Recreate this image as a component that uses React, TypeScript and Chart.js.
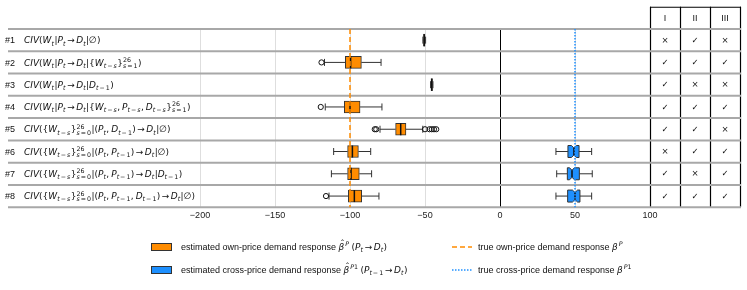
import React, { useEffect, useRef } from 'react';
import { Chart, registerables } from 'chart.js';
Chart.register(...registerables);

// ---------------- data ----------------
const rowIds = ['#1', '#2', '#3', '#4', '#5', '#6', '#7', '#8'];
const rowFormulas = [
  'CIV(W_t|P_t→D_t|∅)',
  'CIV(W_t|P_t→D_t|\\{W_{t−s}\\}_{s=1}^{26})',
  'CIV(W_t|P_t→D_t|D_{t−1})',
  'CIV(W_t|P_t→D_t|\\{W_{t−s}, P_{t−s}, D_{t−s}\\}_{s=1}^{26})',
  'CIV(\\{W_{t−s}\\}_{s=0}^{26}|(P_t, D_{t−1})→D_t|∅)',
  'CIV(\\{W_{t−s}\\}_{s=0}^{26}|(P_t, P_{t−1})→D_t|∅)',
  'CIV(\\{W_{t−s}\\}_{s=0}^{26}|(P_t, P_{t−1})→D_t|D_{t−1})',
  'CIV(\\{W_{t−s}\\}_{s=0}^{26}|(P_t, P_{t−1}, D_{t−1})→D_t|∅)',
];

// own-price (orange) boxplot statistics
const ownLo = [-51.4, -117, -46.3, -116.5, -80, -110.9, -112.4, -114];
const ownQ1 = [-51.0, -103.1, -46.0, -103.8, -69.6, -101.6, -101.6, -101.1];
const ownMed = [-50.5, -99.6, -45.5, -100, -66.2, -98.4, -99.3, -97.1];
const ownQ3 = [-50.0, -92.4, -45.0, -93.3, -62.7, -94.4, -93.8, -92.2];
const ownHi = [-49.6, -79.3, -44.7, -78.7, -51.5, -86.2, -85.6, -80.7];
const ownOutliers = [[], [-119], [], [-119.5], [-83.5, -82.5, -50, -47, -45.5, -44, -42.5], [], [], [-116]];

// cross-price (blue) boxplot statistics
const crossLo = [null, null, null, null, null, 37.3, 37.8, 37.3];
const crossQ1 = [null, null, null, null, null, 45.3, 44.9, 45.1];
const crossMed = [null, null, null, null, null, 49.3, 48, 50];
const crossQ3 = [null, null, null, null, null, 52.7, 52.9, 53.3];
const crossHi = [null, null, null, null, null, 61.1, 61.5, 61.1];
const crossNotchLo = [null, null, null, null, null, 47.6, 46.4, 48.3];
const crossNotchHi = [null, null, null, null, null, 51.0, 49.6, 51.7];

const trueOwn = -100;
const trueCross = 50;

const xTicks = [-200, -150, -100, -50, 0, 50, 100];
const xMin = -200;
const xMax = 160;

const tableHeaders = ['I', 'II', 'III'];
const colI = ['×', '✓', '✓', '✓', '✓', '×', '✓', '✓'];
const colII = ['✓', '✓', '×', '✓', '✓', '✓', '×', '✓'];
const colIII = ['×', '✓', '×', '✓', '×', '✓', '✓', '✓'];
const tableCols = [colI, colII, colIII];

const legendOwnText = 'estimated own-price demand response ';
const legendOwnMath = '~β^P (P_t→D_t)';
const legendCrossText = 'estimated cross-price demand response ';
const legendCrossMath = '~β^{P1} (P_{t−1}→D_t)';
const legendTrueOwnText = 'true own-price demand response ';
const legendTrueOwnMath = 'β^P';
const legendTrueCrossText = 'true cross-price demand response ';
const legendTrueCrossMath = 'β^{P1}';

// ---------------- styles ----------------
const ORANGE = '#FF8C00';
const BLUE = '#1E90FF';
const EDGE = '#333333';
const SANS = '"Liberation Sans", Arial, sans-serif';
const MATHF = '"DejaVu Sans"';
const FS = 9;

// ---------------- mini math renderer ----------------
type Item = { ch?: string; sub?: string; sup?: string; hat?: string };

function parseMath(s: string): Item[] {
  const items: Item[] = [];
  let i = 0;
  const readGroup = (): string => {
    if (s[i] === '{') {
      let depth = 1;
      let j = i + 1;
      while (depth > 0 && j < s.length) {
        if (s[j] === '{') depth++;
        else if (s[j] === '}') depth--;
        j++;
      }
      const g = s.slice(i + 1, j - 1);
      i = j;
      return g;
    }
    return s[i++];
  };
  while (i < s.length) {
    const c = s[i];
    if (c === '_' || c === '^') {
      const it: Item = {};
      while (s[i] === '_' || s[i] === '^') {
        const k = s[i];
        i++;
        const g = readGroup();
        if (k === '_') it.sub = g;
        else it.sup = g;
      }
      items.push(it);
    } else if (c === '~') {
      i++;
      items.push({ hat: s[i++] });
    } else if (c === '\\') {
      i++;
      items.push({ ch: s[i++] });
    } else {
      items.push({ ch: c });
      i++;
    }
  }
  return items;
}

const isItalic = (c: string) => /[A-Za-z\u03B1-\u03C9]/.test(c);
const mfont = (size: number, it: boolean) => `${it ? 'italic ' : ''}${size}px ${MATHF}`;

function drawRun(ctx: CanvasRenderingContext2D, str: string, x: number, y: number, size: number): number {
  let w = 0;
  for (const c of str) {
    if (c === ' ') {
      w += size * 0.22;
      continue;
    }
    const op = c === '→' || c === '=' || c === '−';
    if (op) w += size * 0.16;
    ctx.font = mfont(size, isItalic(c));
    ctx.fillText(c, x + w, y);
    w += ctx.measureText(c).width;
    if (op) w += size * 0.16;
  }
  return w;
}

function drawMath(ctx: CanvasRenderingContext2D, s: string, x: number, y: number, size: number): number {
  const items = parseMath(s);
  let w = 0;
  let prevItalic = false;
  for (const it of items) {
    if (it.ch !== undefined) {
      w += drawRun(ctx, it.ch, x + w, y, size);
      prevItalic = isItalic(it.ch);
    } else if (it.hat !== undefined) {
      ctx.font = mfont(size, isItalic(it.hat));
      const cw = ctx.measureText(it.hat).width;
      ctx.fillText(it.hat, x + w, y);
      ctx.font = mfont(size, false);
      const hw = ctx.measureText('ˆ').width;
      ctx.fillText('ˆ', x + w + cw / 2 - hw / 2 + size * 0.12, y - size * 0.32);
      w += cw;
      prevItalic = true;
    } else {
      const ss = size * 0.7;
      let sw = 0;
      let pw = 0;
      if (it.sub !== undefined) sw = drawRun(ctx, it.sub, x + w, y + size * 0.24, ss);
      if (it.sup !== undefined) pw = drawRun(ctx, it.sup, x + w + (prevItalic ? size * 0.1 : 0), y - size * 0.42, ss);
      w += Math.max(sw, pw + (prevItalic ? size * 0.1 : 0)) + size * 0.05;
      prevItalic = false;
    }
  }
  return w;
}

// ---------------- plugin ----------------
const boxPlugin = {
  id: 'boxExtras',
  afterDatasetsDraw(chart: any) {
    const ctx: CanvasRenderingContext2D = chart.ctx;
    const xs = chart.scales.x;
    const ys = chart.scales.y;
    const area = chart.chartArea;
    const step = ys.getPixelForValue(1) - ys.getPixelForValue(0);
    const X = (v: number) => xs.getPixelForValue(v);
    const half = 6;
    const cap = 3.5;
    ctx.save();

    // table verticals (x >= 100)
    const headTop = area.top - step;
    ctx.strokeStyle = '#000';
    ctx.lineWidth = 1.2;
    const colStep = (xMax - 100) / 3;
    for (let k = 0; k <= 3; k++) {
      const px = Math.round(X(100 + k * colStep)) + 0.5;
      ctx.beginPath();
      ctx.moveTo(px, headTop);
      ctx.lineTo(px, area.bottom);
      ctx.stroke();
    }
    ctx.beginPath();
    ctx.moveTo(X(100), headTop + 0.5);
    ctx.lineTo(X(xMax) + 1, headTop + 0.5);
    ctx.stroke();

    // row separator lines
    ctx.strokeStyle = '#a8a8a8';
    ctx.lineWidth = 2;
    for (let k = 0; k <= rowIds.length; k++) {
      const py = area.top + k * step;
      ctx.beginPath();
      ctx.moveTo(8, py);
      ctx.lineTo(X(xMax) + 1, py);
      ctx.stroke();
    }

    const drawWhiskers = (y: number, lo: number, q1: number, q3: number, hi: number, c: number) => {
      ctx.strokeStyle = EDGE;
      ctx.lineWidth = 1;
      ctx.setLineDash([]);
      ctx.beginPath();
      ctx.moveTo(X(lo), y);
      ctx.lineTo(X(q1), y);
      ctx.moveTo(X(q3), y);
      ctx.lineTo(X(hi), y);
      ctx.moveTo(X(lo), y - c);
      ctx.lineTo(X(lo), y + c);
      ctx.moveTo(X(hi), y - c);
      ctx.lineTo(X(hi), y + c);
      ctx.stroke();
    };
    // own-price whiskers, medians, outliers
    for (let i = 0; i < rowIds.length; i++) {
      const y = ys.getPixelForValue(i);
      drawWhiskers(y, ownLo[i], ownQ1[i], ownQ3[i], ownHi[i], cap);
      ctx.strokeStyle = '#111';
      ctx.lineWidth = 1.5;
      ctx.beginPath();
      ctx.moveTo(X(ownMed[i]), y - half);
      ctx.lineTo(X(ownMed[i]), y + half);
      ctx.stroke();
      ctx.lineWidth = 1;
      ctx.strokeStyle = '#111';
      for (const o of ownOutliers[i]) {
        ctx.beginPath();
        ctx.arc(X(o), y, 2.6, 0, Math.PI * 2);
        ctx.stroke();
      }
    }

    // cross-price notched boxes
    for (let i = 0; i < rowIds.length; i++) {
      const q1 = crossQ1[i];
      if (q1 === null) continue;
      const y = ys.getPixelForValue(i);
      drawWhiskers(y, crossLo[i] as number, q1, crossQ3[i] as number, crossHi[i] as number, cap);
      const a = X(q1), b = X(crossQ3[i] as number), m = X(crossMed[i] as number);
      const nl = X(crossNotchLo[i] as number), nh = X(crossNotchHi[i] as number);
      const top = y - half, bot = y + half, inset = 2.5;
      ctx.beginPath();
      ctx.moveTo(a, top);
      ctx.lineTo(nl, top);
      ctx.lineTo(m, top + inset);
      ctx.lineTo(nh, top);
      ctx.lineTo(b, top);
      ctx.lineTo(b, bot);
      ctx.lineTo(nh, bot);
      ctx.lineTo(m, bot - inset);
      ctx.lineTo(nl, bot);
      ctx.lineTo(a, bot);
      ctx.closePath();
      ctx.fillStyle = BLUE;
      ctx.fill();
      ctx.strokeStyle = EDGE;
      ctx.lineWidth = 1;
      ctx.stroke();
      ctx.strokeStyle = '#111';
      ctx.lineWidth = 1.5;
      ctx.beginPath();
      ctx.moveTo(m, top + inset);
      ctx.lineTo(m, bot - inset);
      ctx.stroke();
    }

    // true value reference lines
    ctx.lineWidth = 1.5;
    ctx.strokeStyle = ORANGE;
    ctx.setLineDash([5, 3]);
    ctx.beginPath();
    ctx.moveTo(X(trueOwn), area.top);
    ctx.lineTo(X(trueOwn), area.bottom);
    ctx.stroke();
    ctx.strokeStyle = BLUE;
    ctx.setLineDash([1.5, 1.5]);
    ctx.beginPath();
    ctx.moveTo(X(trueCross), area.top);
    ctx.lineTo(X(trueCross), area.bottom);
    ctx.stroke();
    ctx.setLineDash([]);

    // left row labels
    ctx.fillStyle = '#111';
    ctx.textAlign = 'left';
    ctx.textBaseline = 'alphabetic';
    for (let i = 0; i < rowIds.length; i++) {
      const y = ys.getPixelForValue(i) + FS * 0.36;
      ctx.font = `${FS}px ${SANS}`;
      ctx.fillText(rowIds[i], 5, y);
      drawMath(ctx, rowFormulas[i], 24, y, FS);
    }

    // table text
    ctx.textAlign = 'center';
    ctx.textBaseline = 'middle';
    for (let k = 0; k < 3; k++) {
      const cx = X(100 + (k + 0.5) * colStep);
      ctx.font = `${FS}px ${SANS}`;
      ctx.fillText(tableHeaders[k], cx, headTop + step / 2 + 0.5);
      for (let i = 0; i < rowIds.length; i++) {
        ctx.font = `8.5px ${MATHF}`;
        ctx.fillText(tableCols[k][i], cx, ys.getPixelForValue(i) + 0.5);
      }
    }

    // legend
    ctx.textAlign = 'left';
    ctx.textBaseline = 'alphabetic';
    const ly1 = 247;
    const ly2 = 270;
    const sw = (y: number, col: string) => {
      ctx.fillStyle = col;
      ctx.fillRect(151, y - 3.5, 21, 7);
      ctx.strokeStyle = EDGE;
      ctx.lineWidth = 1;
      ctx.strokeRect(151.5, y - 3.5, 20, 7);
    };
    const txt = (x: number, y: number, t: string, m: string) => {
      ctx.fillStyle = '#111';
      ctx.font = `${FS}px ${SANS}`;
      ctx.fillText(t, x, y + FS * 0.36);
      const w = ctx.measureText(t).width;
      drawMath(ctx, m, x + w, y + FS * 0.36, FS);
    };
    sw(ly1, ORANGE);
    txt(181, ly1, legendOwnText, legendOwnMath);
    sw(ly2, BLUE);
    txt(181, ly2, legendCrossText, legendCrossMath);
    ctx.lineWidth = 1.5;
    ctx.strokeStyle = ORANGE;
    ctx.setLineDash([5, 3]);
    ctx.beginPath();
    ctx.moveTo(452, ly1);
    ctx.lineTo(472, ly1);
    ctx.stroke();
    ctx.strokeStyle = BLUE;
    ctx.setLineDash([1.5, 1.5]);
    ctx.beginPath();
    ctx.moveTo(452, ly2);
    ctx.lineTo(472, ly2);
    ctx.stroke();
    ctx.setLineDash([]);
    txt(478, ly1, legendTrueOwnText, legendTrueOwnMath);
    txt(478, ly2, legendTrueCrossText, legendTrueCrossMath);

    ctx.restore();
  },
};

export default function App() {
  const ref = useRef<HTMLCanvasElement>(null);
  useEffect(() => {
    document.body.style.margin = '0';
    const chart = new Chart(ref.current as HTMLCanvasElement, {
      type: 'bar',
      data: {
        labels: rowIds,
        datasets: [
          {
            label: 'own',
            data: ownQ1.map((q, i) => [q, ownQ3[i]]) as any,
            backgroundColor: ORANGE,
            borderColor: EDGE,
            borderWidth: 1,
            borderSkipped: false,
            barThickness: 12,
            grouped: false,
          } as any,
          {
            label: 'cross',
            data: crossQ1.map((q, i) => (q === null ? null : [q, crossQ3[i]])) as any,
            backgroundColor: 'rgba(0,0,0,0)',
            borderColor: 'rgba(0,0,0,0)',
            borderWidth: 0,
            barThickness: 12,
            grouped: false,
          } as any,
        ],
      },
      options: {
        indexAxis: 'y',
        animation: false,
        responsive: true,
        maintainAspectRatio: false,
        layout: { padding: { left: 200, right: 7, top: 29, bottom: 66 } },
        plugins: { legend: { display: false }, tooltip: { enabled: false } },
        scales: {
          x: {
            type: 'linear',
            min: xMin,
            max: xMax,
            afterBuildTicks: (scale: any) => {
              scale.ticks = xTicks.map((v) => ({ value: v }));
            },
            border: { display: false },
            grid: {
              drawTicks: false,
              lineWidth: 1,
              color: (c: any) => (c.tick && (c.tick.value === 0 || c.tick.value === 100) ? '#000' : '#dedede'),
            },
            ticks: {
              padding: 3,
              color: '#222',
              font: { family: SANS, size: FS },
              callback: (v: any) => String(v).replace('-', '−'),
            },
          },
          y: { type: 'category', display: false, offset: true },
        },
      } as any,
      plugins: [boxPlugin],
    });
    return () => chart.destroy();
  }, []);
  return (
    <div style={{ width: 747, height: 290, position: 'relative' }}>
      <canvas ref={ref} />
    </div>
  );
}
